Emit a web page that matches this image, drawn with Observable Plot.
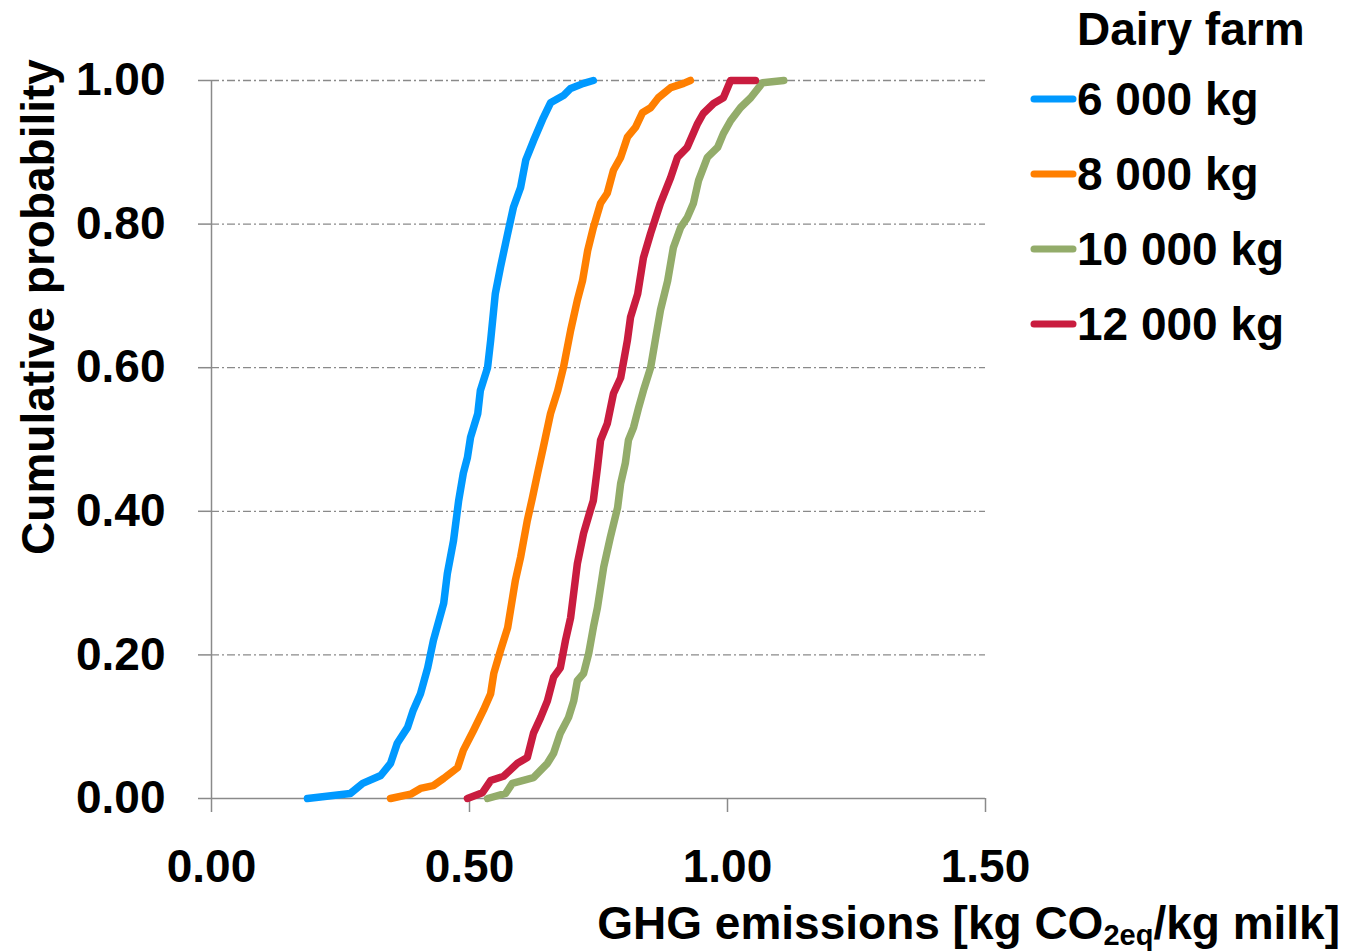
<!DOCTYPE html>
<html><head><meta charset="utf-8">
<script src="https://cdn.jsdelivr.net/npm/d3@7"></script>
<script src="https://cdn.jsdelivr.net/npm/@observablehq/plot@0.6"></script>
<style>
body{margin:0;background:#fff;}
#wrap{position:relative;width:1347px;height:952px;overflow:hidden;font-family:"Liberation Sans",Arial,sans-serif;font-weight:bold;}
#legend{position:absolute;left:0;top:0;}
</style></head><body><div id="wrap"></div>
<script>
const seriesNames = ["6 000 kg", "8 000 kg", "10 000 kg", "12 000 kg"];
const seriesColors = ["#0099ff", "#ff7f00", "#93ac6a", "#c91c3f"];
const legendTitle = "Dairy farm";
const yLabel = "Cumulative probability";
const xTicks = [0, 0.5, 1, 1.5];
const yTicks = [0, 0.2, 0.4, 0.6, 0.8, 1];

const x6000 = [0.186,0.269,0.293,0.328,0.347,0.360,0.380,0.391,0.405,0.419,0.430,0.450,0.457,0.469,0.479,0.488,0.496,0.502,0.516,0.521,0.535,0.541,0.550,0.560,0.574,0.585,0.599,0.609,0.624,0.643,0.657,0.682,0.696,0.721,0.740];
const y6000 = [0.000,0.007,0.021,0.032,0.049,0.077,0.099,0.123,0.146,0.182,0.220,0.272,0.313,0.359,0.415,0.453,0.475,0.503,0.536,0.568,0.600,0.638,0.703,0.740,0.787,0.823,0.851,0.889,0.916,0.948,0.969,0.979,0.989,0.996,1.000];

const x8000 = [0.347,0.386,0.405,0.430,0.450,0.477,0.488,0.508,0.527,0.541,0.547,0.560,0.574,0.581,0.589,0.599,0.612,0.622,0.632,0.643,0.657,0.671,0.682,0.696,0.709,0.719,0.729,0.740,0.754,0.767,0.779,0.793,0.806,0.822,0.835,0.851,0.866,0.890,0.915,0.928];
const y8000 = [0.000,0.006,0.014,0.018,0.028,0.043,0.067,0.095,0.123,0.146,0.174,0.206,0.238,0.269,0.304,0.336,0.387,0.419,0.453,0.489,0.536,0.568,0.600,0.652,0.694,0.721,0.763,0.795,0.829,0.843,0.875,0.893,0.921,0.935,0.955,0.962,0.976,0.990,0.996,1.000];

const x10000 = [0.535,0.570,0.583,0.624,0.651,0.663,0.676,0.692,0.702,0.709,0.721,0.731,0.740,0.748,0.760,0.773,0.787,0.793,0.802,0.808,0.818,0.828,0.837,0.851,0.860,0.870,0.884,0.895,0.909,0.922,0.934,0.944,0.961,0.981,0.992,1.006,1.025,1.045,1.068,1.109];
const y10000 = [0.000,0.007,0.021,0.029,0.049,0.063,0.091,0.113,0.136,0.164,0.174,0.202,0.238,0.266,0.322,0.364,0.405,0.439,0.467,0.499,0.517,0.545,0.568,0.600,0.638,0.680,0.721,0.767,0.795,0.809,0.829,0.861,0.893,0.907,0.926,0.944,0.962,0.976,0.997,1.000];

const x12000 = [0.496,0.525,0.541,0.566,0.593,0.612,0.624,0.638,0.651,0.663,0.676,0.686,0.696,0.709,0.721,0.734,0.740,0.748,0.754,0.767,0.779,0.793,0.806,0.812,0.826,0.837,0.851,0.870,0.890,0.903,0.922,0.942,0.953,0.973,0.992,1.006,1.054];
const y12000 = [0.000,0.008,0.025,0.031,0.049,0.057,0.091,0.113,0.136,0.169,0.182,0.220,0.252,0.327,0.369,0.401,0.415,0.461,0.499,0.522,0.564,0.586,0.638,0.670,0.703,0.753,0.787,0.829,0.865,0.893,0.907,0.940,0.954,0.968,0.976,1.000,1.000];

const seriesXY = [[x6000, y6000], [x8000, y8000], [x10000, y10000], [x12000, y12000]];
const data = [];
seriesXY.forEach(([xs, ys], i) => xs.forEach((x, j) => data.push({series: seriesNames[i], x, y: ys[j]})));

const FONT = "Liberation Sans, Arial, sans-serif";
const GRAY = "#8a8a8a";
const fmt = d3.format(".2f");

const chart = Plot.plot({
  width: 1347, height: 952,
  marginLeft: 211, marginRight: 362, marginTop: 80, marginBottom: 154,
  style: {fontFamily: FONT, fontSize: "46px", fontWeight: "bold", color: "#000", background: "#fff", overflow: "visible"},
  x: {domain: [0, 1.5]},
  y: {domain: [0, 1]},
  color: {domain: seriesNames, range: seriesColors},
  marks: [
    Plot.gridY(yTicks.filter(d => d > 0), {stroke: GRAY, strokeOpacity: 1, strokeWidth: 1.3, strokeDasharray: "8,3,2,3"}),
    Plot.ruleX([0], {stroke: GRAY, strokeWidth: 1.5}),
    Plot.ruleY([0], {stroke: GRAY, strokeWidth: 1.5}),
    Plot.axisY({ticks: yTicks, tickSize: 13, tickPadding: 33, tickFormat: fmt, stroke: GRAY, strokeWidth: 1.5, label: null, fontSize: 46, fontWeight: "bold", fill: "#000"}),
    Plot.axisX({ticks: xTicks, tickSize: 14, tickPadding: 37, tickFormat: fmt, stroke: GRAY, strokeWidth: 1.5, label: null, fontSize: 46, fontWeight: "bold", fill: "#000"}),
    Plot.line(data, {x: "x", y: "y", z: "series", stroke: "series", strokeWidth: 7.5, strokeLinejoin: "round", strokeLinecap: "round"})
  ]
});
document.getElementById("wrap").appendChild(chart);

const svg = d3.select(chart);
// Y axis label
svg.append("text")
  .attr("transform", "translate(38,307) rotate(-90)")
  .attr("text-anchor", "middle").attr("dominant-baseline", "central")
  .style("font-family", FONT).style("font-weight", "bold").style("font-size", "46px").attr("fill", "#000")
  .text(yLabel);
// X axis label with subscript
const xl = svg.append("text")
  .attr("x", 1340).attr("y", 939).attr("text-anchor", "end")
  .style("font-family", FONT).style("font-weight", "bold").style("font-size", "46px").attr("fill", "#000");
xl.append("tspan").text("GHG emissions [kg CO");
xl.append("tspan").attr("dy", 6).style("font-size", "29px").text("2eq");
xl.append("tspan").attr("dy", -6).text("/kg milk]");

// Legend
const lg = d3.select("#wrap").append("svg").attr("id", "legend").attr("width", 1347).attr("height", 400)
  .style("font-family", FONT).style("font-weight", "bold").style("font-size", "46px");
lg.append("text").attr("x", 1077).attr("y", 45).attr("fill", "#000").text(legendTitle);
seriesNames.forEach((s, i) => {
  const cy = 99 + i * 75;
  lg.append("line").attr("x1", 1034).attr("x2", 1073).attr("y1", cy).attr("y2", cy)
    .attr("stroke", seriesColors[i]).attr("stroke-width", 7).attr("stroke-linecap", "round");
  lg.append("text").attr("x", 1077).attr("y", cy + 16).attr("fill", "#000").text(s);
});
</script></body></html>
